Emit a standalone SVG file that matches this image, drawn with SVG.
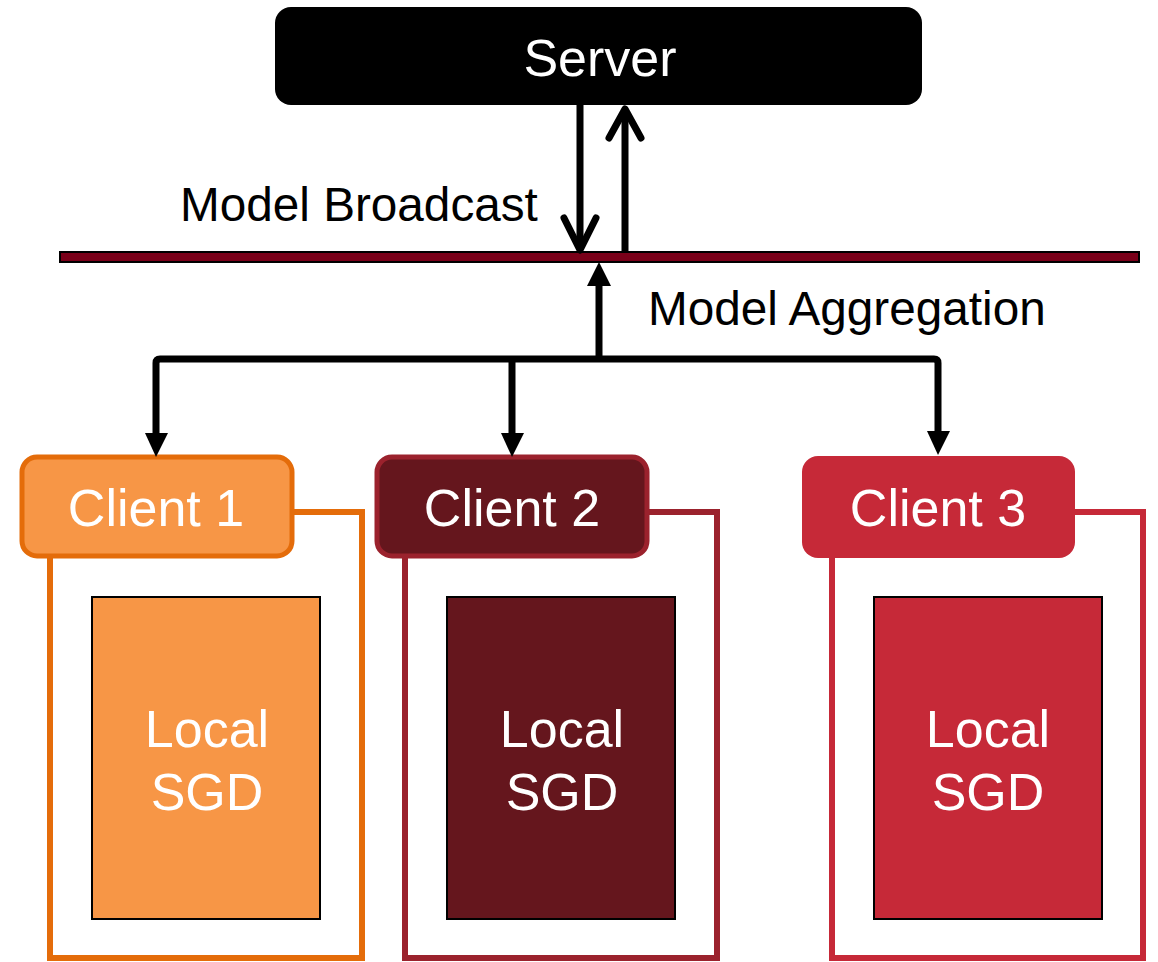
<svg xmlns="http://www.w3.org/2000/svg" width="1158" height="962" viewBox="0 0 1158 962">
<style>
text{font-family:"Liberation Sans",Arial,sans-serif;}
.w{fill:#fff;text-anchor:middle;font-size:52px;}
.lbl{fill:#000;font-size:47.7px;}
.con{stroke:#000;stroke-width:7;fill:none;}
.chev{stroke:#000;stroke-width:7;fill:none;stroke-linecap:round;stroke-linejoin:round;}
.inner{stroke:#000;stroke-width:2;}
</style>
<rect width="1158" height="962" fill="#fff"/>
<g id="server">
<rect x="275" y="7" width="647" height="98" rx="16" fill="#000"/>
<text x="600" y="76" class="w" font-size="54">Server</text>
</g>
<g id="bus">
<rect x="60" y="252" width="1079" height="10" fill="#7a0019" stroke="#000" stroke-width="2"/>
</g>
<g id="labels">
<text x="180" y="221" class="lbl">Model Broadcast</text>
<text x="648" y="325" class="lbl">Model Aggregation</text>
</g>
<g id="client1">
<path d="M293,512 H362 V958 H50 V558" fill="none" stroke="#E46C0A" stroke-width="6"/>
<rect x="22" y="457" width="270" height="99" rx="15" fill="#F79646" stroke="#E46C0A" stroke-width="5"/>
<text x="156" y="526" class="w">Client 1</text>
<rect x="92" y="597" width="228" height="322" fill="#F79646" class="inner"/>
<text x="207" y="747" class="w" font-size="53">Local</text>
<text x="207" y="810" class="w" font-size="53">SGD</text>
</g>
<g id="client2">
<path d="M648,512 H717 V958 H405 V558" fill="none" stroke="#9B222D" stroke-width="6"/>
<rect x="377" y="457" width="270" height="99" rx="15" fill="#65161D" stroke="#9B222D" stroke-width="5"/>
<text x="512" y="526" class="w">Client 2</text>
<rect x="447" y="597" width="228" height="322" fill="#65161D" class="inner"/>
<text x="562" y="747" class="w" font-size="53">Local</text>
<text x="562" y="810" class="w" font-size="53">SGD</text>
</g>
<g id="client3">
<path d="M1075,512 H1143 V958 H832 V558" fill="none" stroke="#C62938" stroke-width="6"/>
<rect x="802" y="456" width="273" height="102" rx="16" fill="#C62938"/>
<text x="938" y="526" class="w">Client 3</text>
<rect x="874" y="597" width="228" height="322" fill="#C62938" class="inner"/>
<text x="988" y="747" class="w" font-size="53">Local</text>
<text x="988" y="810" class="w" font-size="53">SGD</text>
</g>
<g id="connectors">
<path d="M580,105 V248" class="con"/>
<path d="M564,218 L580,250 L596,218" class="chev"/>
<path d="M625,252 V110" class="con"/>
<path d="M609,138 L625,109 L641,138" class="chev"/>
<path d="M599,359 V286" class="con"/>
<path d="M587,286 L599,262 L611,286 Z" fill="#000"/>
<path d="M156,434 V363 Q156,359 160,359 H934 Q938,359 938,363 V432" class="con"/>
<path d="M512,359 V434" class="con"/>
<path d="M145,433 L156,457 L168,433 Z" fill="#000"/>
<path d="M501,433 L512,457 L524,433 Z" fill="#000"/>
<path d="M927,431 L938,455 L950,431 Z" fill="#000"/>
</g>
</svg>
